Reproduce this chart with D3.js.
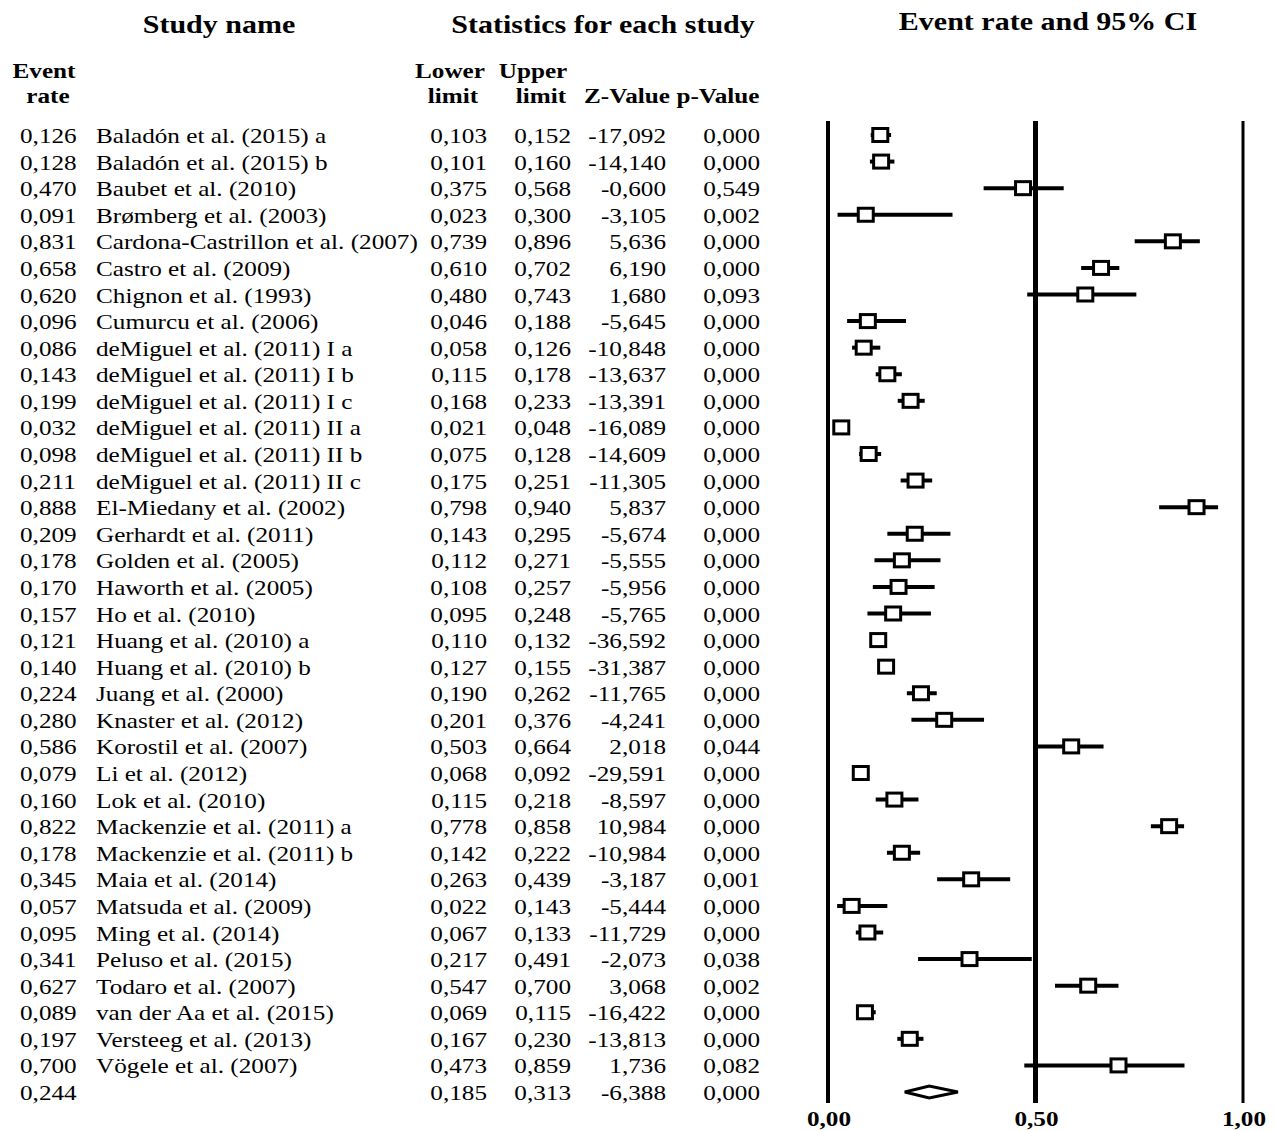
<html>
<head>
<meta charset="utf-8">
<script src="https://d3js.org/d3.v7.min.js"></script>
<style>
  body { margin: 0; background: #fff; }
  text { font-family: "Liberation Serif", "Times New Roman", serif; fill: #000; }
  .bold { font-weight: bold; }
</style>
</head>
<body>
<svg id="forest" width="1275" height="1131"></svg>
<script>
// study rows
const studies = [
  "Baladón et al. (2015) a", "Baladón et al. (2015) b", "Baubet et al. (2010)",
  "Brømberg et al. (2003)", "Cardona-Castrillon et al. (2007)", "Castro et al. (2009)",
  "Chignon et al. (1993)", "Cumurcu et al. (2006)", "deMiguel et al. (2011) I a",
  "deMiguel et al. (2011) I b", "deMiguel et al. (2011) I c", "deMiguel et al. (2011) II a",
  "deMiguel et al. (2011) II b", "deMiguel et al. (2011) II c", "El-Miedany et al. (2002)",
  "Gerhardt et al. (2011)", "Golden et al. (2005)", "Haworth et al. (2005)",
  "Ho et al. (2010)", "Huang et al. (2010) a", "Huang et al. (2010) b",
  "Juang et al. (2000)", "Knaster et al. (2012)", "Korostil et al. (2007)",
  "Li et al. (2012)", "Lok et al. (2010)", "Mackenzie et al. (2011) a",
  "Mackenzie et al. (2011) b", "Maia et al. (2014)", "Matsuda et al. (2009)",
  "Ming et al. (2014)", "Peluso et al. (2015)", "Todaro et al. (2007)",
  "van der Aa et al. (2015)", "Versteeg et al. (2013)", "Vögele et al. (2007)"
];
const eventRate = [0.126, 0.128, 0.470, 0.091, 0.831, 0.658, 0.620, 0.096, 0.086, 0.143, 0.199, 0.032,
  0.098, 0.211, 0.888, 0.209, 0.178, 0.170, 0.157, 0.121, 0.140, 0.224, 0.280, 0.586,
  0.079, 0.160, 0.822, 0.178, 0.345, 0.057, 0.095, 0.341, 0.627, 0.089, 0.197, 0.700];
const lower = [0.103, 0.101, 0.375, 0.023, 0.739, 0.610, 0.480, 0.046, 0.058, 0.115, 0.168, 0.021,
  0.075, 0.175, 0.798, 0.143, 0.112, 0.108, 0.095, 0.110, 0.127, 0.190, 0.201, 0.503,
  0.068, 0.115, 0.778, 0.142, 0.263, 0.022, 0.067, 0.217, 0.547, 0.069, 0.167, 0.473];
const upper = [0.152, 0.160, 0.568, 0.300, 0.896, 0.702, 0.743, 0.188, 0.126, 0.178, 0.233, 0.048,
  0.128, 0.251, 0.940, 0.295, 0.271, 0.257, 0.248, 0.132, 0.155, 0.262, 0.376, 0.664,
  0.092, 0.218, 0.858, 0.222, 0.439, 0.143, 0.133, 0.491, 0.700, 0.115, 0.230, 0.859];
const zValue = [-17.092, -14.140, -0.600, -3.105, 5.636, 6.190, 1.680, -5.645, -10.848, -13.637, -13.391, -16.089,
  -14.609, -11.305, 5.837, -5.674, -5.555, -5.956, -5.765, -36.592, -31.387, -11.765, -4.241, 2.018,
  -29.591, -8.597, 10.984, -10.984, -3.187, -5.444, -11.729, -2.073, 3.068, -16.422, -13.813, 1.736];
const pValue = [0.000, 0.000, 0.549, 0.002, 0.000, 0.000, 0.093, 0.000, 0.000, 0.000, 0.000, 0.000,
  0.000, 0.000, 0.000, 0.000, 0.000, 0.000, 0.000, 0.000, 0.000, 0.000, 0.000, 0.044,
  0.000, 0.000, 0.000, 0.000, 0.001, 0.000, 0.000, 0.038, 0.002, 0.000, 0.000, 0.082];

// pooled estimate
const summary = { rate: 0.244, lower: 0.185, upper: 0.313, z: -6.388, p: 0.000 };

const axisTicks = [0, 0.5, 1];

const svg = d3.select("svg#forest");
const locale = d3.formatLocale({ decimal: ",", thousands: ".", grouping: [3], currency: ["", ""], minus: "-" });
const f3 = locale.format(".3f");
const f2 = locale.format(".2f");

const sx = 1.2; // the source text is horizontally stretched

function txt(x, y, str, anchor, size, bold) {
  svg.append("text")
    .attr("transform", `translate(${x},${y}) scale(${sx},1)`)
    .attr("text-anchor", anchor)
    .attr("font-size", size)
    .attr("class", bold ? "bold" : null)
    .text(str);
}

// scales
const nRows = studies.length + 1;
const yScale = d3.scaleLinear().domain([0, nRows - 1]).range([135, 1092]);
const xScale = d3.scaleLinear().domain([0, 1]).range([828, 1243]);

// headers
txt(219, 33, "Study name", "middle", 25, true);
txt(603, 33, "Statistics for each study", "middle", 25, true);
txt(1048, 30, "Event rate and 95% CI", "middle", 25, true);
txt(44, 78, "Event", "middle", 21, true);
txt(48, 103, "rate", "middle", 21, true);
txt(450, 78, "Lower", "middle", 21, true);
txt(453, 103, "limit", "middle", 21, true);
txt(533, 78, "Upper", "middle", 21, true);
txt(541, 103, "limit", "middle", 21, true);
txt(627, 103, "Z-Value", "middle", 21, true);
txt(718, 103, "p-Value", "middle", 21, true);

// table rows
studies.forEach((name, i) => {
  const y = yScale(i) + 8;
  txt(20, y, f3(eventRate[i]), "start", 21);
  txt(96, y, name, "start", 21);
  txt(487, y, f3(lower[i]), "end", 21);
  txt(571, y, f3(upper[i]), "end", 21);
  txt(666, y, f3(zValue[i]), "end", 21);
  txt(760, y, f3(pValue[i]), "end", 21);
});
const ys = yScale(nRows - 1) + 8;
txt(20, ys, f3(summary.rate), "start", 21);
txt(487, ys, f3(summary.lower), "end", 21);
txt(571, ys, f3(summary.upper), "end", 21);
txt(666, ys, f3(summary.z), "end", 21);
txt(760, ys, f3(summary.p), "end", 21);

// reference lines
const lineW = [4, 5, 3];
svg.selectAll("line.ref").data(axisTicks).join("line")
  .attr("class", "ref")
  .attr("x1", d => xScale(d)).attr("x2", d => xScale(d))
  .attr("y1", 121).attr("y2", 1103)
  .attr("stroke", "#000")
  .attr("stroke-width", (d, i) => lineW[i]);

axisTicks.forEach(t => txt(xScale(t) + 1, 1126, f2(t), "middle", 21, true));

// confidence intervals
const rows = studies.map((name, i) => ({ i, rate: eventRate[i], lo: lower[i], hi: upper[i] }));
svg.selectAll("line.ci").data(rows).join("line")
  .attr("class", "ci")
  .attr("x1", d => xScale(d.lo)).attr("x2", d => xScale(d.hi))
  .attr("y1", d => yScale(d.i)).attr("y2", d => yScale(d.i))
  .attr("stroke", "#000")
  .attr("stroke-width", 4);

// point estimates
const bw = 15, bh = 13;
svg.selectAll("rect.pt").data(rows).join("rect")
  .attr("class", "pt")
  .attr("x", d => xScale(d.rate) - bw / 2)
  .attr("y", d => yScale(d.i) - bh / 2)
  .attr("width", bw).attr("height", bh)
  .attr("fill", "#fff")
  .attr("stroke", "#000")
  .attr("stroke-width", 3);

// summary diamond
const yd = yScale(nRows - 1);
svg.append("polygon")
  .attr("points", [
    [xScale(summary.lower), yd],
    [xScale(summary.rate), yd - 6],
    [xScale(summary.upper), yd],
    [xScale(summary.rate), yd + 6]
  ].map(p => p.join(",")).join(" "))
  .attr("fill", "#fff")
  .attr("stroke", "#000")
  .attr("stroke-width", 3);
</script>
</body>
</html>
